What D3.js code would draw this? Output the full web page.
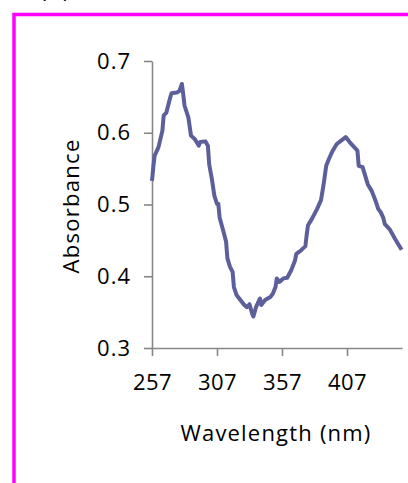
<!DOCTYPE html>
<html>
<head>
<meta charset="utf-8">
<script src="https://cdn.jsdelivr.net/npm/d3@7"></script>
<style>
  body { margin: 0; background: #fff; }
  svg text { font-family: "Open Sans", sans-serif; fill: #000; }
</style>
</head>
<body>
<script>
// spectrum
const wavelength = [257,258,259,262,265,266,268,271,272,276,278,280,281,282,285,287,290,293,294,298,
  300,301,303,305,307,308,309,312,314,315,317,319,320,322,325,328,330,332,334,335,
  337,340,341,344,348,350,352,353,355,358,361,364,367,368,370,371,375,376,377,380,
  384,387,389,391,393,396,399,401,406,409,415,416,419,423,426,429,431,433,435,436,
  440,444,449];
const absorbance = [0.533,0.552,0.568,0.580,0.603,0.624,0.628,0.649,0.655,0.656,0.658,0.668,0.654,0.638,0.621,0.596,0.591,0.582,0.587,0.588,
  0.582,0.556,0.536,0.512,0.501,0.501,0.482,0.462,0.448,0.425,0.413,0.406,0.385,0.374,0.367,0.360,0.357,0.361,0.348,0.344,
  0.357,0.369,0.360,0.367,0.371,0.376,0.385,0.397,0.392,0.397,0.398,0.408,0.422,0.431,0.434,0.435,0.442,0.458,0.471,0.480,
  0.494,0.506,0.528,0.554,0.563,0.575,0.584,0.587,0.594,0.587,0.575,0.554,0.552,0.528,0.519,0.505,0.494,0.489,0.481,0.473,
  0.465,0.452,0.437];
const xTicks = [257, 307, 357, 407];
const yTicks = [0.3, 0.4, 0.5, 0.6, 0.7];

const W = 408, H = 483;
const axisColor = "#878787";

const svg = d3.select("body").append("svg")
  .attr("width", W)
  .attr("height", H);

svg.append("rect").attr("width", W).attr("height", H).attr("fill", "#fff");

// panel label, mostly cut off at the top
svg.append("text")
  .text("(c)")
  .attr("x", 40)
  .attr("y", -2)
  .style("font-size", "22px")
  .style("letter-spacing", "3px");

// magenta frame
svg.append("rect")
  .attr("x", 14)
  .attr("y", 14.5)
  .attr("width", W + 20)
  .attr("height", H + 20)
  .attr("fill", "none")
  .attr("stroke", "#ff00ff")
  .attr("stroke-width", 3.5);

const xScale = d3.scaleLinear().domain([257, 449.3]).range([152, 402]);
const yScale = d3.scaleLinear().domain([0.3, 0.7]).range([348, 61]);

const data = wavelength.map((w, i) => ({ w: w, a: absorbance[i] }));

const xAxis = d3.axisBottom(xScale)
  .tickValues(xTicks)
  .tickFormat(d3.format("d"))
  .tickSize(8)
  .tickSizeOuter(0)
  .tickPadding(18);

const yAxis = d3.axisLeft(yScale)
  .tickValues(yTicks)
  .tickFormat(d3.format(".1f"))
  .tickSize(8)
  .tickSizeOuter(0)
  .tickPadding(13);

const gx = svg.append("g")
  .attr("transform", "translate(0,348)")
  .call(xAxis);

const gy = svg.append("g")
  .attr("transform", "translate(152,0)")
  .call(yAxis);

[gx, gy].forEach(g => {
  g.selectAll("path, line").attr("stroke", axisColor).attr("stroke-width", 1.6);
  g.selectAll("text").style("font-size", "22px").attr("fill", "#000");
});
gx.selectAll("text").style("letter-spacing", "0.5px");
gy.selectAll("text").style("letter-spacing", "1px");

const line = d3.line()
  .x(d => xScale(d.w))
  .y(d => yScale(d.a));

svg.append("path")
  .datum(data)
  .attr("d", line)
  .attr("fill", "none")
  .attr("stroke", "#5d5f9b")
  .attr("stroke-width", 4)
  .attr("stroke-linejoin", "round");

svg.append("text")
  .text("Wavelength (nm)")
  .attr("x", 276)
  .attr("y", 441)
  .attr("text-anchor", "middle")
  .style("font-size", "22px")
  .style("letter-spacing", "1.2px");

svg.append("text")
  .text("Absorbance")
  .attr("transform", "translate(79,206) rotate(-90)")
  .attr("text-anchor", "middle")
  .style("font-size", "22px")
  .style("letter-spacing", "1.3px");
</script>
</body>
</html>
